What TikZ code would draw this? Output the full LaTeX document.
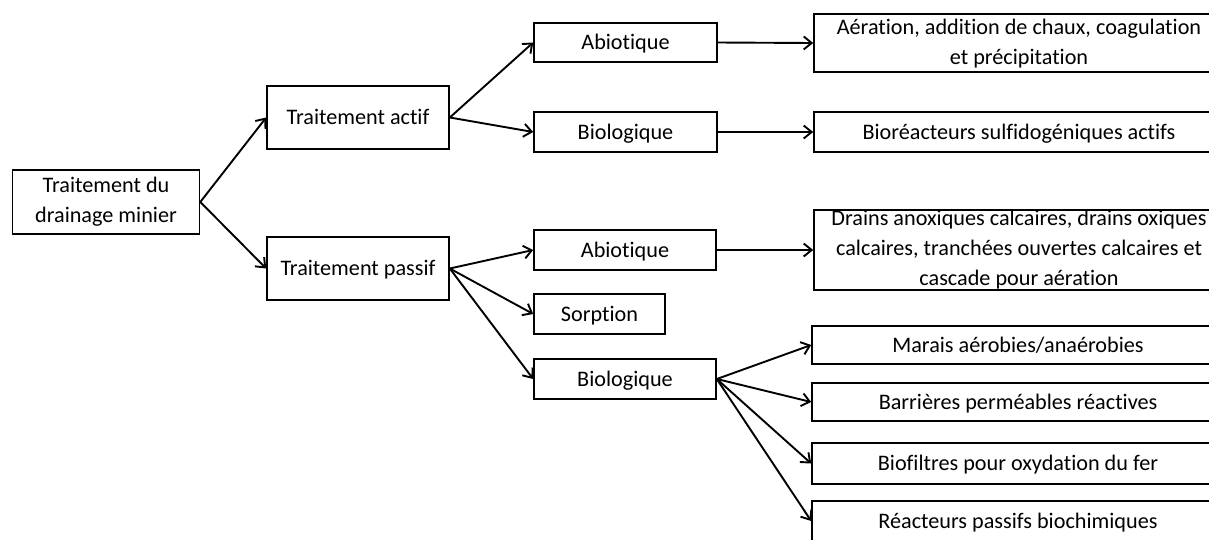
\documentclass[tikz,border=0pt]{standalone}
\usepackage{fontspec}
\setmainfont{Carlito}[Ligatures=NoCommon]
\usetikzlibrary{arrows.meta}

\begin{document}
\begin{tikzpicture}[x=1pt,y=-1pt,
		bloc/.style={draw,line width=1.6pt,inner sep=0pt,align=center,
			font=\fontsize{22.2}{30}\selectfont},
		ligne/.style={bloc,text height=16pt,text depth=2pt},
		fleche/.style={line width=1.9pt,-{Straight Barb[length=8pt,width=13pt]}}]
			\useasboundingbox (0,0) rectangle (1209,539);
			\clip (0,0) rectangle (1209,539);

			\node[bloc,minimum width=187pt,minimum height=64pt] (dmin) at (106,202) {Traitement du\\drainage minier};
			\node[ligne,minimum width=182pt,minimum height=63pt] (actif) at (358,117.5) {Traitement actif};
			\node[ligne,minimum width=182pt,minimum height=63pt] (passif) at (358,268.5) {Traitement passif};

			\node[ligne,minimum width=183pt,minimum height=39pt] (abioA) at (625.5,42.5) {Abiotique};
			\node[ligne,minimum width=183pt,minimum height=40pt] (bioA) at (625.5,132) {Biologique};
			\node[ligne,minimum width=182pt,minimum height=40pt] (abioP) at (625,250) {Abiotique};
			\node[ligne,minimum width=131pt,minimum height=40pt] (sorp) at (599.5,314) {Sorption};
			\node[ligne,minimum width=182pt,minimum height=40pt] (bioP) at (625,379) {Biologique};

			\node[bloc,minimum width=410pt,minimum height=58pt,text depth=2pt] (aera) at (1019,43) {A\'eration, addition de chaux, coagulation\\et pr\'ecipitation};
			\node[ligne,minimum width=410pt,minimum height=40pt] (bior) at (1019,132) {Bior\'eacteurs sulfidog\'eniques actifs};
			\node[bloc,minimum width=410pt,minimum height=80pt] (drains) at (1019,250) {Drains anoxiques calcaires, drains oxiques\\calcaires, tranch\'ees ouvertes calcaires et\\cascade pour a\'eration};
			\node[ligne,minimum width=412pt,minimum height=38pt] (marais) at (1018,345) {Marais a\'erobies/ana\'erobies};
			\node[ligne,minimum width=412pt,minimum height=38pt] (barr) at (1018,402) {Barri\`eres perm\'eables r\'eactives};
			\node[ligne,minimum width=412pt,minimum height=41pt] (biof) at (1018,463.5) {Biofiltres pour oxydation du fer};
			\node[ligne,minimum width=412pt,minimum height=40pt] (reac) at (1018,521) {R\'eacteurs passifs biochimiques};

			\draw[fleche] (dmin.east) -- (actif.west);
			\draw[fleche] (dmin.east) -- (passif.west);
			\draw[fleche] (actif.east) -- (abioA.west);
			\draw[fleche] (actif.east) -- (bioA.west);
			\draw[fleche] (abioA.east) -- (aera.west);
			\draw[fleche] (bioA.east) -- (bior.west);
			\draw[fleche] (passif.east) -- (abioP.west);
			\draw[fleche] (passif.east) -- (sorp.west);
			\draw[fleche] (passif.east) -- (bioP.west);
			\draw[fleche] (abioP.east) -- (drains.west);
			\foreach \n in {marais,barr,biof,reac} {
				\draw[fleche] (bioP.east) -- (\n.west);
			}
		\end{tikzpicture}
\end{document}
